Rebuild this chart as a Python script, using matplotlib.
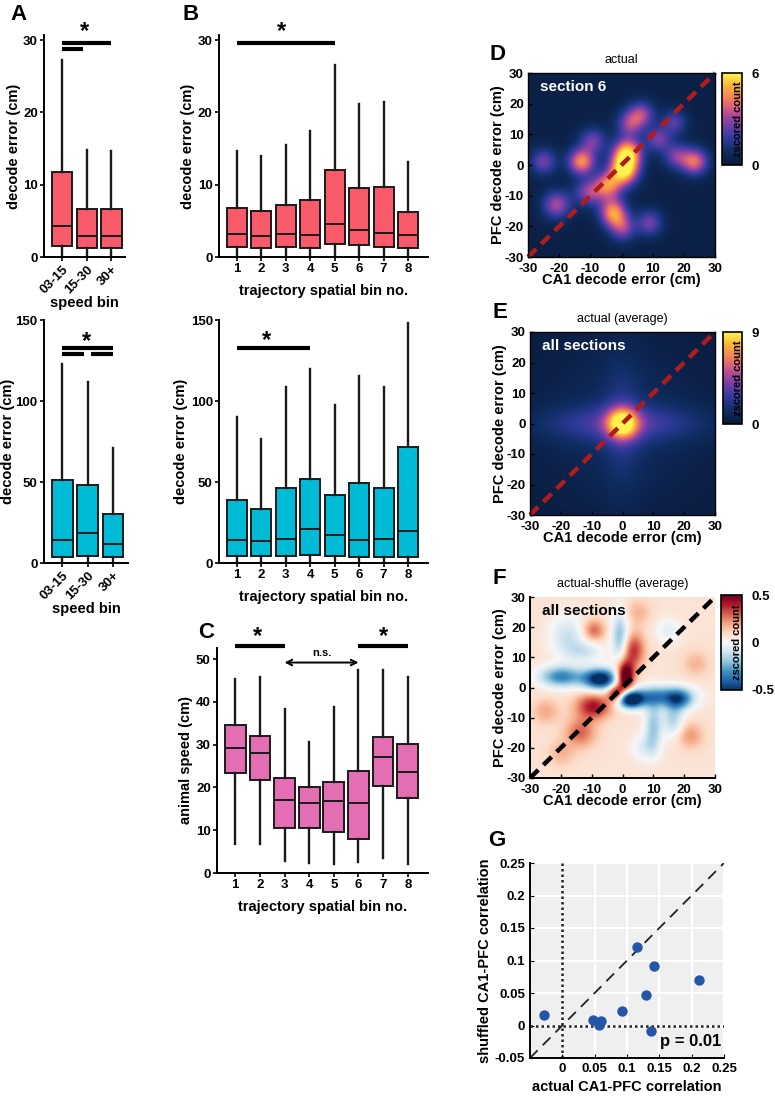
import numpy as np
import matplotlib
matplotlib.use("Agg")
import matplotlib.pyplot as plt
from matplotlib.colors import LinearSegmentedColormap

plt.rcParams['font.family'] = ['Liberation Sans', 'DejaVu Sans']
plt.rcParams['font.weight'] = 'bold'
plt.rcParams['axes.labelweight'] = 'bold'
plt.rcParams['axes.linewidth'] = 1.4
plt.rcParams['axes.unicode_minus'] = False

# ---------------- data ----------------
speed_bins = ['03-15', '15-30', '30+']
traj_bins = ['1', '2', '3', '4', '5', '6', '7', '8']

# panel A top: decode error by speed bin  [low, q1, median, q3, high]
a_top_lo = [0, 0, 0]
a_top_q1 = [1.5, 1.2, 1.2]
a_top_med = [4.3, 2.9, 2.9]
a_top_q3 = [11.8, 6.7, 6.7]
a_top_hi = [27.3, 14.8, 14.6]

# panel A bottom
a_bot_lo = [0, 0, 0]
a_bot_q1 = [3.5, 4.5, 3.5]
a_bot_med = [14.5, 18.5, 11.5]
a_bot_q3 = [51.5, 48, 30.5]
a_bot_hi = [123, 112, 71]

# panel B top: decode error by trajectory bin
b_top_lo = [0] * 8
b_top_q1 = [1.4, 1.2, 1.4, 1.3, 1.8, 1.6, 1.4, 1.2]
b_top_med = [3.2, 2.9, 3.2, 3.1, 4.6, 3.8, 3.3, 3.0]
b_top_q3 = [6.8, 6.4, 7.2, 7.9, 12.0, 9.5, 9.7, 6.2]
b_top_hi = [14.6, 14.0, 15.5, 17.4, 26.6, 21.1, 21.5, 13.2]

# panel B bottom
b_bot_lo = [0] * 8
b_bot_q1 = [4.1, 4.1, 4.1, 5.1, 4.5, 3.7, 3.7, 4.0]
b_bot_med = [14.0, 13.4, 15.0, 20.7, 17.0, 14.4, 15.0, 19.8]
b_bot_q3 = [38.6, 33.5, 46.0, 52.0, 42.0, 49.3, 46.4, 71.4]
b_bot_hi = [90.0, 76.6, 108.8, 119.7, 97.7, 115.6, 108.8, 148.0]

# panel C: animal speed by trajectory bin
c_lo = [6.7, 6.7, 2.8, 2.3, 2.2, 2.6, 3.6, 2.2]
c_q1 = [23.3, 21.7, 10.5, 10.6, 9.5, 8.0, 20.3, 17.6]
c_med = [29.3, 28.0, 17.0, 16.3, 16.9, 16.3, 27.2, 23.7]
c_q3 = [34.5, 32.0, 22.3, 20.2, 21.3, 23.9, 31.7, 30.2]
c_hi = [45.3, 45.8, 38.3, 30.7, 38.8, 47.5, 47.5, 45.9]

# panel D heat map blobs (x cm, y cm, zscored amplitude, sx, sy)
d_x = [-25.2, -12.9, -9.3, -20.9, 0.8, 2.0, -4.5, -10.5, -3.0, 0.5, 9.0, 6.4, 2.7, 11.8, 17.0, 17.7, 23.6, -2.0]
d_y = [1.1, 1.1, 7.9, -13.0, -1.5, 4.0, -6.5, -9.0, -14.6, -21.0, -19.0, 16.7, 13.5, 8.5, 14.0, 3.0, 1.1, -17.0]
d_amp = [2.2, 4.2, 2.2, 2.8, 5.6, 4.6, 3.6, 2.6, 2.8, 2.2, 2.2, 2.6, 2.4, 2.2, 1.9, 2.2, 3.6, 2.0]
d_sx = [3.0, 3.0, 3.0, 3.2, 3.2, 3.2, 3.0, 3.2, 3.0, 2.8, 3.0, 3.0, 3.0, 2.8, 2.8, 3.0, 3.0, 3.0]
d_sy = [3.0, 3.0, 3.0, 3.2, 3.6, 3.4, 3.0, 3.0, 3.4, 3.0, 3.0, 3.0, 3.0, 2.8, 2.8, 3.0, 3.0, 3.0]

# panel E heat map components
e_x = [0, 0, 0, 0]
e_y = [0, 0, 0, 0]
e_amp = [7.2, 2.3, 1.2, 0.8]
e_sx = [3.4, 18.0, 4.5, 18.0]
e_sy = [3.4, 4.2, 15.0, 18.0]

# panel F difference map components
f_x = [-7.2, -20.0, -18.0, -0.8, 0.9, 3.6, -9.4, -13.7, 2.5, 12.0, 10.0, 16.5, 18.7, -9.4, -2.0, 22.0,
       15.0, -25.0, -12.0, 7.0, 24.0, -20.0, 5.0]
f_y = [2.8, 3.6, 17.0, 17.0, 3.6, 12.5, -6.3, -15.0, -4.0, -3.0, -13.0, -10.7, -4.0, 19.0, -2.0, -16.0,
       19.0, -8.0, 12.0, -20.0, 8.0, -22.0, 25.0]
f_amp = [-0.65, -0.4, -0.18, -0.28, 0.6, 0.3, 0.35, 0.22, -0.65, -0.38, -0.25, -0.22, -0.3, 0.22, 0.45,
         0.15, -0.12, 0.12, -0.15, -0.12, 0.1, 0.1, 0.1]
f_sx = [4.0, 5.0, 4.0, 2.0, 2.0, 2.5, 4.0, 3.5, 3.0, 7.0, 2.0, 2.5, 3.0, 2.5, 2.0, 3.0, 3.0, 3.0, 4.0,
        3.0, 3.0, 3.0, 3.0]
f_sy = [2.5, 2.5, 5.0, 6.0, 3.5, 4.0, 3.0, 3.5, 2.0, 2.5, 6.0, 4.0, 2.5, 2.5, 2.0, 3.0, 3.0, 3.0, 2.5,
        3.0, 3.0, 3.0, 3.0]

# panel G correlation scatter
g_actual = [-0.028, 0.047, 0.056, 0.060, 0.093, 0.116, 0.130, 0.137, 0.142, 0.211]
g_shuffled = [0.016, 0.009, 0.001, 0.007, 0.023, 0.121, 0.047, -0.008, 0.091, 0.070]

RED = '#f85a6a'
CYAN = '#00bbd5'
PINK = '#e36eb3'
EDGE = '#1a1a1a'

W, H = 775, 1096
fig = plt.figure(figsize=(W / 100, H / 100), dpi=100)


def px_axes(l, t, r, b):
    return fig.add_axes([l / W, 1 - b / H, (r - l) / W, (b - t) / H])


def boxes(ax, lo, q1, med, q3, hi, color, width=0.82):
    stats = [dict(whislo=a, q1=b, med=c, q3=d, whishi=e) for a, b, c, d, e in zip(lo, q1, med, q3, hi)]
    ax.bxp(stats, positions=range(1, len(stats) + 1), widths=width, patch_artist=True,
           showfliers=False, showcaps=False,
           boxprops=dict(facecolor=color, edgecolor=EDGE, linewidth=1.4),
           medianprops=dict(color=EDGE, linewidth=1.4),
           whiskerprops=dict(color=EDGE, linewidth=1.7))
    for s in ['top', 'right']:
        ax.spines[s].set_visible(False)
    ax.tick_params(labelsize=9.5, length=3, width=1.2, pad=1.5)


def sig_bar(ax, x0, x1, y, lw=3):
    ax.plot([x0, x1], [y, y], color='black', lw=lw, clip_on=False, solid_capstyle='butt')


def star(ax, x, y):
    ax.text(x, y, '*', ha='center', va='center', fontsize=17, clip_on=False)


# ---------------- panel A top ----------------
ax = px_axes(44, 35, 125, 257)
boxes(ax, a_top_lo, a_top_q1, a_top_med, a_top_q3, a_top_hi, RED)
ax.set_xlim(0.27, 3.55)
ax.set_ylim(0, 30.7)
ax.set_yticks([0, 10, 20, 30])
ax.set_xticks([1, 2, 3])
ax.set_xticklabels(speed_bins, rotation=45, ha='right', rotation_mode='anchor')
ax.set_ylabel('decode error (cm)', fontsize=10.5, labelpad=1)
ax.set_xlabel('speed bin', fontsize=10.5, labelpad=0)
sig_bar(ax, 1, 3, 29.6)
sig_bar(ax, 1, 1.85, 28.7)
star(ax, 1.9, 31.2)
fig.text(10 / W, 1 - 14 / H, 'A', fontsize=16, va='center', ha='left')

# ---------------- panel A bottom ----------------
ax = px_axes(44, 320, 128, 563)
boxes(ax, a_bot_lo, a_bot_q1, a_bot_med, a_bot_q3, a_bot_hi, CYAN)
ax.set_xlim(0.27, 3.6)
ax.set_ylim(0, 150)
ax.set_yticks([0, 50, 100, 150])
ax.set_xticks([1, 2, 3])
ax.set_xticklabels(speed_bins, rotation=45, ha='right', rotation_mode='anchor')
ax.set_ylabel('decode error (cm)', fontsize=10.5)
ax.yaxis.set_label_coords(-0.34, 0.5)
ax.set_xlabel('speed bin', fontsize=10.5, labelpad=0)
sig_bar(ax, 1, 3, 133)
sig_bar(ax, 1, 1.85, 129)
sig_bar(ax, 2.15, 3, 129)
star(ax, 1.95, 137)

# ---------------- panel B top ----------------
ax = px_axes(219, 35, 428, 257)
boxes(ax, b_top_lo, b_top_q1, b_top_med, b_top_q3, b_top_hi, RED)
ax.set_xlim(0.26, 8.82)
ax.set_ylim(0, 30.7)
ax.set_yticks([0, 10, 20, 30])
ax.set_xticks(range(1, 9))
ax.set_xticklabels(traj_bins)
ax.set_ylabel('decode error (cm)', fontsize=10.5, labelpad=2)
ax.set_xlabel('trajectory spatial bin no.', fontsize=10.5, labelpad=6)
sig_bar(ax, 1, 5, 29.6)
star(ax, 2.8, 31.2)
fig.text(183 / W, 1 - 14 / H, 'B', fontsize=16, va='center', ha='left')

# ---------------- panel B bottom ----------------
ax = px_axes(219, 320, 428, 563)
boxes(ax, b_bot_lo, b_bot_q1, b_bot_med, b_bot_q3, b_bot_hi, CYAN)
ax.set_xlim(0.26, 8.82)
ax.set_ylim(0, 150)
ax.set_yticks([0, 50, 100, 150])
ax.set_xticks(range(1, 9))
ax.set_xticklabels(traj_bins)
ax.set_ylabel('decode error (cm)', fontsize=10.5, labelpad=2)
ax.set_xlabel('trajectory spatial bin no.', fontsize=10.5, labelpad=6)
sig_bar(ax, 1, 4, 133)
star(ax, 2.2, 137.5)

# ---------------- panel C ----------------
ax = px_axes(217, 648, 428, 873)
boxes(ax, c_lo, c_q1, c_med, c_q3, c_hi, PINK, width=0.84)
ax.set_xlim(0.26, 8.82)
ax.set_ylim(0, 52.6)
ax.set_yticks([0, 10, 20, 30, 40, 50])
ax.set_xticks(range(1, 9))
ax.set_xticklabels(traj_bins)
ax.set_ylabel('animal speed (cm)', fontsize=10.5, labelpad=2)
ax.set_xlabel('trajectory spatial bin no.', fontsize=10.5, labelpad=6)
sig_bar(ax, 1, 3, 53.1)
sig_bar(ax, 6, 8, 53.1)
star(ax, 1.9, 55.3)
star(ax, 7.0, 55.3)
ax.annotate('', xy=(3, 49.2), xytext=(6, 49.2),
            arrowprops=dict(arrowstyle='<->', color='black', lw=1.4, shrinkA=0, shrinkB=0),
            annotation_clip=False)
ax.text(4.5, 50.2, 'n.s.', ha='center', va='bottom', fontsize=8)
fig.text(198 / W, 1 - 633 / H, 'C', fontsize=16, va='center', ha='left')

# ---------------- heat maps ----------------
grid = np.linspace(-30, 30, 181)
gx, gy = np.meshgrid(grid, grid)


def render(xs, ys, amps, sxs, sys_, base):
    img = np.full(gx.shape, base, dtype=float)
    for x0, y0, a, sx, sy in zip(xs, ys, amps, sxs, sys_):
        img += a * np.exp(-((gx - x0) ** 2 / (2 * sx ** 2) + (gy - y0) ** 2 / (2 * sy ** 2)))
    return img


fire = LinearSegmentedColormap.from_list('fire', ['#0a1836', '#0f2d62', '#2e3a9a', '#6f3fa8',
                                                  '#bd4f92', '#f07a5e', '#fcb23c', '#fff24c'])


def heat_axes(l, t, r, b, img, cmap, vmin, vmax, title, label, label_color, line_color,
              cbar_box, cticks, cticklabels, letter, full_frame=True):
    ax = px_axes(l, t, r, b)
    im = ax.imshow(img, extent=[-30, 30, -30, 30], origin='lower', cmap=cmap,
                   vmin=vmin, vmax=vmax, interpolation='bilinear', aspect='auto')
    ax.plot([-30, 30], [-30, 30], color=line_color, lw=3.2, dashes=(2.6, 1.6), clip_on=False)
    ax.set_xlim(-30, 30)
    ax.set_ylim(-30, 30)
    ticks = [-30, -20, -10, 0, 10, 20, 30]
    ax.set_xticks(ticks)
    ax.set_yticks(ticks)
    ax.tick_params(direction='in', labelsize=9.5, length=3, width=1, top=False, right=False)
    ax.tick_params(axis='x', pad=4)
    ax.tick_params(axis='y', pad=3)
    ax.set_xlabel('CA1 decode error (cm)', fontsize=10.5, labelpad=-1)
    ax.set_ylabel('PFC decode error (cm)', fontsize=10.5, labelpad=0)
    ax.set_title(title, fontsize=9, pad=7)
    ax.text(-26, 25.5, label, color=label_color, fontsize=11, va='center', ha='left')
    if not full_frame:
        ax.spines['top'].set_visible(False)
        ax.spines['right'].set_visible(False)
    else:
        for s in ax.spines.values():
            s.set_linewidth(1.0)
    cax = px_axes(*cbar_box)
    cb = fig.colorbar(im, cax=cax)
    cb.set_ticks(cticks)
    cb.set_ticklabels(cticklabels)
    cax.tick_params(length=0, labelsize=9.5, pad=7)
    cb.outline.set_linewidth(1.2)
    cax.text(0.78, 0.5, 'zscored count', rotation=90, ha='center', va='center',
             fontsize=8, transform=cax.transAxes)
    fig.text((l - 38) / W, 1 - (t - 19) / H, letter, fontsize=16, va='center', ha='left')
    return ax


img_d = render(d_x, d_y, d_amp, d_sx, d_sy, 0.35)
heat_axes(528, 73, 715, 257, img_d, fire, 0, 6, 'actual', 'section 6', 'white', '#b01c1c',
          (722, 73, 742, 165), [0, 6], ['0', '6'], 'D')

img_e = render(e_x, e_y, e_amp, e_sx, e_sy, 0.35)
heat_axes(530, 332, 715, 515, img_e, fire, 0, 9, 'actual (average)', 'all sections', 'white', '#b01c1c',
          (723, 332, 742, 424), [0, 9], ['0', '9'], 'E')

img_f = render(f_x, f_y, f_amp, f_sx, f_sy, 0.07)
heat_axes(530, 597, 715, 778, img_f, 'RdBu_r', -0.5, 0.5, 'actual-shuffle (average)', 'all sections',
          'black', 'black', (721, 595, 742, 690), [-0.5, 0, 0.5], ['-0.5', '0', '0.5'], 'F',
          full_frame=False)

# ---------------- panel G ----------------
ax = px_axes(530, 863, 724, 1058)
ax.set_facecolor('#efefef')
ax.grid(True, color='white', lw=1.6)
ax.set_axisbelow(True)
ax.plot([-0.05, 0.25], [-0.05, 0.25], color='#222222', lw=1.3, dashes=(6, 4), zorder=2)
ax.axvline(0, color='#222222', lw=1.8, ls=(0, (1, 1.2)), zorder=2)
ax.axhline(0, color='#222222', lw=1.8, ls=(0, (1, 1.2)), zorder=2)
ax.scatter(g_actual, g_shuffled, s=42, color='#2456a8', zorder=3)
ax.set_xlim(-0.05, 0.25)
ax.set_ylim(-0.05, 0.25)
ax.set_xticks([-0.05, 0, 0.05, 0.1, 0.15, 0.2, 0.25])
ax.set_xticklabels(['', '0', '0.05', '0.1', '0.15', '0.2', '0.25'])
ax.set_yticks([-0.05, 0, 0.05, 0.1, 0.15, 0.2, 0.25])
ax.set_yticklabels(['-0.05', '0', '0.05', '0.1', '0.15', '0.2', '0.25'])
ax.tick_params(labelsize=9.5, length=3, direction='in', top=False, right=False)
for s in ['top', 'right']:
    ax.spines[s].set_visible(False)
ax.set_xlabel('actual CA1-PFC correlation', fontsize=10.5, labelpad=4)
ax.set_ylabel('shuffled CA1-PFC correlation', fontsize=10.5, labelpad=2)
ax.text(0.245, -0.024, 'p = 0.01', ha='right', va='center', fontsize=12)
fig.text(488 / W, 1 - 840 / H, 'G', fontsize=16, va='center', ha='left')

fig.savefig('out.png', dpi=100, facecolor='white')
